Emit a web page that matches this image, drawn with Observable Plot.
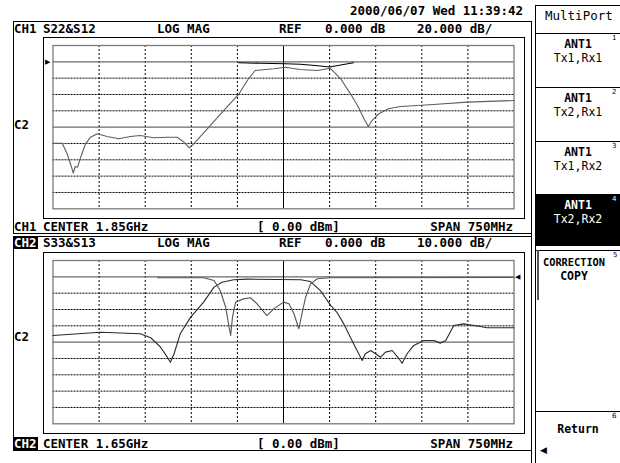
<!DOCTYPE html>
<html>
<head>
<meta charset="utf-8">
<script src="https://cdn.jsdelivr.net/npm/d3@7"></script>
<script src="https://cdn.jsdelivr.net/npm/@observablehq/plot@0.6"></script>
<style>
html,body{margin:0;padding:0;background:#fff;overflow:hidden;}
#root{position:relative;width:620px;height:463px;overflow:hidden;background:#fff;}
.t{position:absolute;font-family:"DejaVu Sans Mono",monospace;font-weight:bold;font-size:12.5px;line-height:13px;white-space:pre;color:#000;}
.inv{background:#000;color:#fff;}
.b{position:absolute;border:1px solid #000;box-sizing:border-box;}
.h{position:absolute;height:1px;background:#000;}
.v{position:absolute;width:1px;background:#000;}
.sk{position:absolute;left:536px;width:84px;text-align:center;font-family:"DejaVu Sans Mono",monospace;font-size:11.5px;line-height:12px;white-space:pre;color:#000;}
.bd{font-weight:bold;}
.badge{position:absolute;left:612px;font-family:"DejaVu Sans",sans-serif;font-size:7px;line-height:7px;color:#000;}
.chart{position:absolute;width:490px;height:185px;}
</style>
</head>
<body>
<div id="root">
  <!-- date -->
  <div class="t" style="right:97px;top:3.7px;">2000/06/07 Wed 11:39:42</div>

  <!-- CH1 boxes -->
  <div class="b" style="left:13px;top:21px;width:519px;height:213px;"></div>
  <div class="b" style="left:43px;top:37px;width:482px;height:182px;"></div>
  <!-- CH2 boxes -->
  <div class="b" style="left:13px;top:236px;width:519px;height:215px;"></div>
  <div class="b" style="left:43px;top:252px;width:482px;height:182px;"></div>

  <!-- CH1 header/footer -->
  <div class="t" style="left:14px;top:21.7px;">CH1</div>
  <div class="t" style="left:43px;top:21.7px;">S22&amp;S12</div>
  <div class="t" style="left:157px;top:21.7px;">LOG MAG</div>
  <div class="t" style="left:279px;top:21.7px;">REF</div>
  <div class="t" style="left:325px;top:21.7px;">0.000 dB</div>
  <div class="t" style="left:417px;top:21.7px;">20.000 dB/</div>
  <div class="t" style="left:14px;top:118px;">C2</div>
  <div class="t" style="left:14px;top:219.7px;">CH1</div>
  <div class="t" style="left:43px;top:219.7px;">CENTER 1.85GHz</div>
  <div class="t" style="left:257px;top:219.7px;">[ 0.00 dBm]</div>
  <div class="t" style="right:107px;top:219.7px;">SPAN 750MHz</div>

  <!-- CH2 header/footer -->
  <div class="t inv" style="left:13px;top:235.5px;padding:0 1px;">CH2</div>
  <div class="t" style="left:43px;top:235.5px;">S33&amp;S13</div>
  <div class="t" style="left:157px;top:235.5px;">LOG MAG</div>
  <div class="t" style="left:279px;top:235.5px;">REF</div>
  <div class="t" style="left:325px;top:235.5px;">0.000 dB</div>
  <div class="t" style="left:417px;top:235.5px;">10.000 dB/</div>
  <div class="t" style="left:14px;top:330px;">C2</div>
  <div class="t inv" style="left:13px;top:436.7px;padding:0 1px;">CH2</div>
  <div class="t" style="left:43px;top:436.7px;">CENTER 1.65GHz</div>
  <div class="t" style="left:257px;top:436.7px;">[ 0.00 dBm]</div>
  <div class="t" style="right:107px;top:436.7px;">SPAN 750MHz</div>

  <!-- softkey panel -->
  <div class="v" style="left:531px;top:21px;height:442px;"></div>
  <div class="v" style="left:535px;top:5px;height:458px;"></div>
  <div class="h" style="left:535px;top:5px;width:85px;"></div>
  <div class="t" style="left:545px;top:8.7px;font-weight:normal;">MultiPort</div>
  <div class="h" style="left:535px;top:33px;width:85px;"></div>
  <div class="h" style="left:535px;top:87px;width:85px;"></div>
  <div class="h" style="left:535px;top:141px;width:85px;"></div>
  <div style="position:absolute;left:536px;top:194px;width:84px;height:52px;background:#000;"></div>
  <div class="h" style="left:535px;top:250px;width:85px;"></div>
  <div style="position:absolute;left:537px;top:250px;width:2px;height:50px;background:#555;"></div>
  <div class="h" style="left:535px;top:411px;width:85px;"></div>

  <div class="sk bd" style="top:38.2px;">ANT1</div>
  <div class="sk" style="top:52.2px;">Tx1,Rx1</div>
  <div class="badge" style="top:35px;">1</div>
  <div class="sk bd" style="top:92.2px;">ANT1</div>
  <div class="sk" style="top:106.2px;">Tx2,Rx1</div>
  <div class="badge" style="top:89px;">2</div>
  <div class="sk bd" style="top:146.2px;">ANT1</div>
  <div class="sk" style="top:160.2px;">Tx1,Rx2</div>
  <div class="badge" style="top:143px;">3</div>
  <div class="sk bd" style="top:199.2px;color:#fff;">ANT1</div>
  <div class="sk" style="top:213.2px;color:#fff;">Tx2,Rx2</div>
  <div class="badge" style="top:196px;color:#fff;">4</div>
  <div class="sk bd" style="top:256.2px;left:538px;width:72px;font-size:10.3px;">CORRECTION</div>
  <div class="sk bd" style="top:269.7px;left:538px;width:72px;">COPY</div>
  <div class="badge" style="top:252px;left:613px;">5</div>
  <div class="sk bd" style="top:423.2px;">Return</div>
  <div class="badge" style="top:413px;">6</div>
  <div class="t" style="left:540px;top:444px;font-size:9px;font-family:'DejaVu Sans',sans-serif;">◀</div>

  <div id="ch1" class="chart" style="left:40px;top:35px;"></div>
  <div id="ch2" class="chart" style="left:40px;top:250px;"></div>
</div>
<script>
// ---------- CH1 : S22 & S12, center 1.85 GHz, span 750 MHz, 20 dB/div ----------
const ch1S12Freq = [1475,1490,1498,1506,1508,1511,1515,1520,1528,1536,1547,1563,1582,1601,1617,1639,1661,1677,1688,1697,1704,1726,1753,1777,1793,1804,1834,1853,1877,1905,1926,1943,1959,1972,1981,1988,1994,2005,2021,2040,2094,2149,2225];
const ch1S12 = [-99.7,-99.7,-112.6,-131,-136.4,-128.2,-129,-116.8,-100.4,-92.3,-88.1,-91.4,-94.3,-91.4,-90.2,-93,-92.3,-92.3,-98.4,-105.3,-100.4,-82,-59.6,-40,-20.8,-10.6,-8.5,-6.6,-9.4,-10.6,-7.8,-20.8,-39.2,-55.6,-69.8,-79.2,-71.9,-63.6,-57.5,-54.7,-52.3,-49.4,-47.4];
const ch1S22Freq = [1777,1812,1853,1877,1902,1925,1943,1964];
const ch1S22 = [-1.2,-1.8,-2.4,-3.0,-4.5,-6.3,-3.9,-1.2];
const ch1FreqDomain = [1475, 2225];
const ch1DbDomain = [-180, 20];
const ch1Grid = [1550,1625,1700,1775,1850,1925,2000,2075,2150];
const ch1Levels = [0,-20,-40,-60,-80,-100,-120,-140,-160];
const ch1CenterFreq = 1850;
const ch1Ref = 0;
const ch1CenterLevel = -80;

// ---------- CH2 : S33 & S13, center 1.65 GHz, span 750 MHz, 10 dB/div ----------
const ch2S13Freq = [1275,1352,1417,1434,1450,1461,1466,1472,1482,1499,1520,1537,1550,1569,1591,1678,1694,1710,1727,1737,1748,1764,1778,1783,1792,1808,1816,1827,1838,1843,1851,1862,1878,1895,1905,1914,1927,1943,1970,1981,2025];
const ch2S13 = [-35.9,-33.9,-34.9,-37.3,-43.1,-49.2,-52.3,-47.1,-34.9,-24.7,-15.5,-6.3,-3.3,-1.8,-1.4,-1.8,-2.9,-8.4,-17.6,-21.7,-28.8,-41,-51.2,-47.1,-45.1,-49.2,-46.1,-45.1,-50.2,-52.9,-47.1,-42,-39,-39,-40.6,-39,-29.8,-28.8,-30.4,-31.2,-31.2];
const ch2S33Freq = [1445,1520,1537,1547,1556,1561,1564,1567,1572,1585,1596,1607,1623,1634,1650,1659,1667,1675,1680,1686,1694,1705,1725,2025];
const ch2S33 = [-0.6,-0.6,-2.2,-8.4,-18.6,-29.8,-35.9,-24.7,-15.5,-13.5,-12.8,-16.5,-23.7,-19.6,-15.5,-16.5,-22.6,-31.8,-22.6,-12.5,-4.3,-1.2,-0.6,-0.4];
const ch2FreqDomain = [1275, 2025];
const ch2DbDomain = [-90, 10];
const ch2Grid = [1350,1425,1500,1575,1650,1725,1800,1875,1950];
const ch2Levels = [0,-10,-20,-30,-40,-50,-60,-70,-80];
const ch2CenterFreq = 1650;
const ch2Ref = 0;
const ch2CenterLevel = -40;

function rows(fs, vs) { return fs.map((f, i) => ({f, v: vs[i]})); }

function panel({xDomain, yDomain, grid, levels, centerFreq, ref, centerLevel, traces, marker}) {
  const marks = [
    Plot.ruleX(grid.filter(d => d !== centerFreq), {stroke: "#000", strokeWidth: 1, strokeDasharray: "2,2"}),
    Plot.ruleY(levels.filter(d => d !== ref && d !== centerLevel), {stroke: "#000", strokeWidth: 1, strokeDasharray: "2,1"}),
    Plot.ruleY([ref, centerLevel], {stroke: "#6a6a6a", strokeWidth: 1.2}),
    Plot.ruleX([centerFreq], {stroke: "#000", strokeWidth: 1}),
    Plot.frame({stroke: "#7a7a7a", strokeWidth: 1.3}),
    ...traces.map(t => Plot.line(rows(t.f, t.v), {x: "f", y: "v", stroke: t.color, strokeWidth: 1.1})),
    Plot.text([ref], {x: () => marker.side === "left" ? xDomain[0] : xDomain[1], y: d => d,
      text: () => marker.side === "left" ? "▶" : "◀", dx: marker.side === "left" ? -5.5 : 3.5,
      fontSize: 7, fill: "#000"})
  ];
  return Plot.plot({
    width: 490, height: 185,
    marginLeft: 12.5, marginRight: 16.5, marginTop: 10, marginBottom: 11.7,
    x: {domain: xDomain, axis: null},
    y: {domain: yDomain, axis: null},
    style: {background: "transparent", overflow: "visible"},
    marks
  });
}

document.getElementById("ch1").appendChild(panel({
  xDomain: ch1FreqDomain, yDomain: ch1DbDomain, grid: ch1Grid, levels: ch1Levels,
  centerFreq: ch1CenterFreq, ref: ch1Ref, centerLevel: ch1CenterLevel,
  traces: [
    {f: ch1S12Freq, v: ch1S12, color: "#5e5e5e"},
    {f: ch1S22Freq, v: ch1S22, color: "#000"}
  ],
  marker: {side: "left"}
}));

document.getElementById("ch2").appendChild(panel({
  xDomain: ch2FreqDomain, yDomain: ch2DbDomain, grid: ch2Grid, levels: ch2Levels,
  centerFreq: ch2CenterFreq, ref: ch2Ref, centerLevel: ch2CenterLevel,
  traces: [
    {f: ch2S13Freq, v: ch2S13, color: "#2a2a2a"},
    {f: ch2S33Freq, v: ch2S33, color: "#555"}
  ],
  marker: {side: "right"}
}));
</script>
</body>
</html>
